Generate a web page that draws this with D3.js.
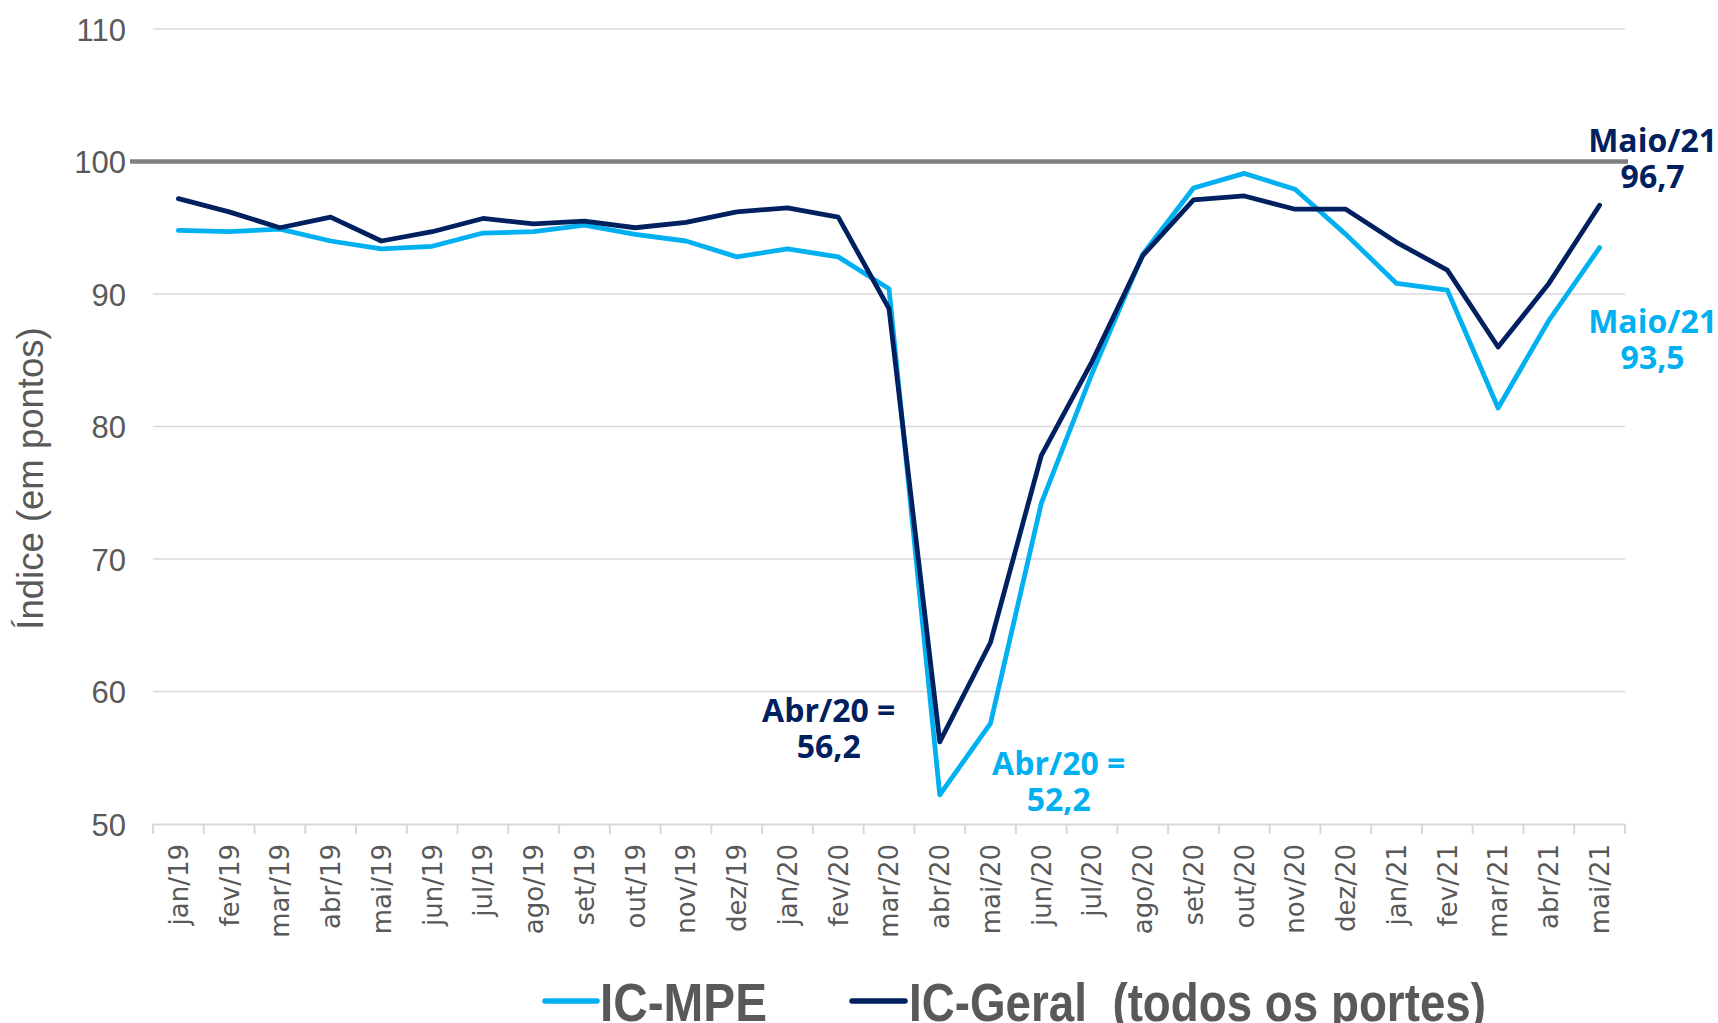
<!DOCTYPE html>
<html>
<head>
<meta charset="utf-8">
<script src="https://cdn.jsdelivr.net/npm/d3@7"></script>
<style>
  html, body { margin: 0; padding: 0; background: #ffffff; }
  svg { display: block; }
</style>
</head>
<body>
<script>
// ---- data ----
const months = ["jan/19","fev/19","mar/19","abr/19","mai/19","jun/19","jul/19","ago/19","set/19","out/19","nov/19","dez/19",
                "jan/20","fev/20","mar/20","abr/20","mai/20","jun/20","jul/20","ago/20","set/20","out/20","nov/20","dez/20",
                "jan/21","fev/21","mar/21","abr/21","mai/21"];
const icMPE   = [94.8, 94.7, 94.9, 94.0, 93.4, 93.6, 94.6, 94.7, 95.2, 94.5, 94.0, 92.8,
                 93.4, 92.8, 90.4, 52.2, 57.6, 74.2, 84.0, 93.0, 98.0, 99.1, 97.9, 94.5,
                 90.8, 90.3, 81.4, 88.0, 93.5];
const icGeral = [97.2, 96.2, 95.0, 95.8, 94.0, 94.7, 95.7, 95.3, 95.5, 95.0, 95.4, 96.2,
                 96.5, 95.8, 88.9, 56.2, 63.7, 77.8, 84.9, 92.9, 97.1, 97.4, 96.4, 96.4,
                 93.9, 91.8, 86.0, 90.8, 96.7];
const yTicks = [50, 60, 70, 80, 90, 100, 110];
const seriesNames = ["IC-MPE", "IC-Geral  (todos os portes)"];
const refValue = 100;

const W = 1718, H = 1023;
const colMPE = "#00B0F0", colGeral = "#002060", textGray = "#595959";

const svg = d3.select("body").append("svg").attr("width", W).attr("height", H);

const x = d3.scaleBand().domain(months).range([153, 1625]).paddingInner(0).paddingOuter(0);
const y = d3.scaleLinear().domain([50, 110]).range([824, 29]);
const cx = m => x(m) + x.bandwidth() / 2;

// gridlines
svg.append("g").selectAll("line").data(yTicks.filter(t => t !== 50 && t !== refValue)).join("line")
  .attr("x1", 153).attr("x2", 1625)
  .attr("y1", d => y(d)).attr("y2", d => y(d))
  .attr("stroke", "#d9d9d9").attr("stroke-width", 1.6);

// y axis labels
const yAxis = d3.axisLeft(y).tickValues(yTicks).tickSize(0).tickPadding(0);
const gy = svg.append("g").attr("transform", "translate(126,0)").call(yAxis);
gy.select(".domain").remove();
gy.selectAll("text").attr("font-family", "'Liberation Sans', Arial, sans-serif")
  .attr("font-size", 31).attr("fill", textGray).attr("dy", "0.36em");

// x axis
const xAxis = d3.axisBottom(x).tickSize(0).tickSizeOuter(0);
const gx = svg.append("g").attr("transform", "translate(0,824)").call(xAxis);
gx.select(".domain").attr("stroke", "#d9d9d9").attr("stroke-width", 2);
gx.selectAll(".tick line").remove();
gx.selectAll("text")
  .attr("font-family", "'DejaVu Sans', Verdana, sans-serif")
  .attr("font-size", 26).attr("fill", textGray)
  .attr("text-anchor", "end")
  .attr("transform", "rotate(-90)")
  .attr("x", -20).attr("y", 0).attr("dy", "0.36em");
// tick marks at band boundaries
const bounds = months.map(m => x(m)).concat([x(months[months.length - 1]) + x.bandwidth()]);
svg.append("g").selectAll("line").data(bounds).join("line")
  .attr("x1", d => d).attr("x2", d => d).attr("y1", 824).attr("y2", 834)
  .attr("stroke", "#d9d9d9").attr("stroke-width", 2);

// reference line at 100
svg.append("line").attr("x1", 130).attr("x2", 1628)
  .attr("y1", y(refValue)).attr("y2", y(refValue))
  .attr("stroke", "#808080").attr("stroke-width", 4.5);

// y title
svg.append("text")
  .attr("transform", `translate(43,${(y(50) + y(110)) / 2 + 52}) rotate(-90)`)
  .attr("text-anchor", "middle")
  .attr("font-family", "'Liberation Sans', Arial, sans-serif")
  .attr("font-size", 36.5).attr("fill", textGray)
  .text("Índice (em pontos)");

// lines
const line = d3.line().x((d, i) => cx(months[i])).y(d => y(d));
svg.append("path").datum(icMPE).attr("d", line)
  .attr("fill", "none").attr("stroke", colMPE).attr("stroke-width", 4.8)
  .attr("stroke-linejoin", "round").attr("stroke-linecap", "round");
svg.append("path").datum(icGeral).attr("d", line)
  .attr("fill", "none").attr("stroke", colGeral).attr("stroke-width", 4.8)
  .attr("stroke-linejoin", "round").attr("stroke-linecap", "round");

// annotations
const annFont = "'Open Sans', 'Lato', sans-serif";
function ann(lines, px, py, color) {
  const t = svg.append("text").attr("text-anchor", "middle")
    .attr("font-family", annFont).attr("font-weight", 700).attr("font-size", 32)
    .attr("fill", color);
  lines.forEach((s, i) => t.append("tspan").attr("x", px).attr("y", py + i * 36).text(s));
}
const iAbr = months.indexOf("abr/20"), iMai = months.length - 1;
ann(["Abr/20 =", icGeral[iAbr].toFixed(1).replace(".", ",")], cx(months[iAbr]) - 111, y(icGeral[iAbr]) - 20, colGeral);
ann(["Abr/20 =", icMPE[iAbr].toFixed(1).replace(".", ",")], cx(months[iAbr]) + 119, y(icMPE[iAbr]) - 20, colMPE);
ann(["Maio/21", icGeral[iMai].toFixed(1).replace(".", ",")], cx(months[iMai]) + 53, y(icGeral[iMai]) - 53, colGeral);
ann(["Maio/21", icMPE[iMai].toFixed(1).replace(".", ",")], cx(months[iMai]) + 53, y(icMPE[iMai]) + 85, colMPE);

// legend
const legend = [
  { name: seriesNames[0], color: colMPE, x0: 545, x1: 597, tx: 600, tw: 167 },
  { name: seriesNames[1], color: colGeral, x0: 852, x1: 905, tx: 909, tw: 577 }
];
const lg = svg.append("g");
legend.forEach(d => {
  lg.append("line").attr("x1", d.x0).attr("x2", d.x1).attr("y1", 1001).attr("y2", 1001)
    .attr("stroke", d.color).attr("stroke-width", 5.5).attr("stroke-linecap", "round");
  lg.append("text").attr("x", d.tx).attr("y", 1021)
    .attr("font-family", "'Liberation Sans Narrow', 'Liberation Sans', Arial, sans-serif")
    .attr("font-weight", 700).attr("font-size", 53).attr("fill", textGray)
    .style("white-space", "pre")
    .attr("textLength", d.tw).attr("lengthAdjust", "spacingAndGlyphs")
    .text(d.name);
});
</script>
</body>
</html>
